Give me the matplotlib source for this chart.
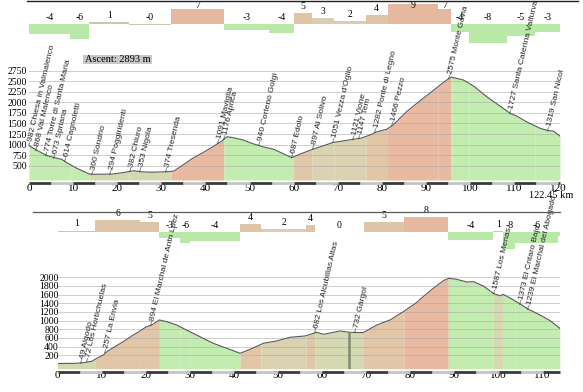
import numpy as np
import matplotlib
matplotlib.use("Agg")
import matplotlib.pyplot as plt
import matplotlib.transforms as mtransforms
from matplotlib.lines import Line2D
from matplotlib.patches import Rectangle

# ---- route 1 : Chiesa in Valmalenco -> San Nicolo (km, m)
top_km = [0, 1.7, 4.0, 5.9, 7.4, 8.5, 10.8, 13.7, 14.6, 18.8, 21.8, 23.7, 25.6, 28.0,
          31.8, 32.9, 34.9, 37.1, 39.4, 41.7, 43.6, 44.9, 46.3, 48.6, 50.5, 53.0,
          55.5, 57.8, 59.6, 61.5, 64.5, 69.0, 73.5, 75.4, 77.3, 78.8, 81.1, 82.6,
          85.6, 88.6, 91.6, 93.9, 95.7, 98.5, 100.8, 103.8, 106.8, 109.1, 110.6,
          112.8, 115.9, 117.8, 118.9, 120.4]
top_elev = [975, 870, 740, 688, 650, 575, 440, 300, 296, 300, 342, 380, 352, 345,
            358, 375, 515, 674, 807, 949, 1075, 1186, 1162, 1108, 1029, 949,
            887, 776, 690, 776, 894, 1050, 1124, 1155, 1226, 1300, 1361, 1465,
            1778, 2032, 2276, 2466, 2600, 2530, 2387, 2134, 1913, 1740, 1676,
            1541, 1385, 1328, 1321, 1202]
top_edges = [0, 9.3, 13.7, 22.7, 32.2, 44.2, 54.5, 60.0, 64.2, 69.2, 76.4, 81.3,
             92.7, 95.7, 99.8, 108.3, 114.7, 120.4]
top_grade = [-4.3, -6.5, 0.9, -0.1, 6.5, -2.5, -3.9, 4.8, 2.6, 1.5, 4.0, 8.8,
             6.6, -3.5, -8.3, -5.3, -3.5]
top_grade_lbl = ['-4', '-6', '1', '-0', '7', '-3', '-4', '5', '3', '2', '4', '9',
                 '7', '-4', '-8', '-5', '-3']
top_place_km = [0.1, 1.8, 3.9, 5.9, 8.2, 14.4, 18.6, 23.1, 25.2, 31.2, 42.9, 44.3,
                52.2, 59.7, 64.5, 69.0, 73.7, 75.0, 78.6, 82.4, 95.3, 109.3, 117.8]
top_place = ['982 Chiesa in Valmalenco', '868 Val Malenco', '774 Torre di Santa Maria',
             '673 Spriana', '614 Cagnoletti', '300 Sondrio', '294 Poggiridenti',
             '382 Chiuro', '353 Nigola', '374 Tresenda', '1091 Maviglia', '1176 Aprica',
             '940 Corteno Golgi', '687 Edolo', '897 Al Solivo', "1051 Vezza d'Oglio",
             '1121 Vione', '1147 Tem', '1282 Ponte di Legno', '1466 Pezzo',
             '2575 Monte Gavia', '1727 Santa Caterina Valfurva', '1319 San Nicol']

# ---- route 2
bot_km = [0, 4.3, 5.9, 7.8, 8.9, 10.4, 11.2, 13.0, 14.9, 17.2, 18.7, 20.2, 21.4,
          23.1, 24.8, 27.0, 30.0, 32.3, 35.3, 38.4, 41.4, 43.5, 46.7, 49.7, 52.7,
          56.1, 58.8, 60.3, 64.1, 66.3, 69.3, 72.4, 75.4, 78.4, 81.4, 82.2, 85.2,
          87.5, 88.7, 90.5, 92.8, 94.3, 96.6, 98.8, 100.3, 101.1, 103.4, 104.9,
          106.8, 109.4, 111.7, 113.9]
bot_elev = [10, 15, 29, 61, 130, 207, 283, 398, 514, 668, 761, 860, 899,
            1015, 975, 899, 745, 629, 477, 361, 246, 330, 477, 530, 615,
            645, 730, 685, 761, 730, 722, 899, 1015, 1206, 1414, 1492, 1746,
            1922, 1977, 1954, 1892, 1900, 1799, 1630, 1575, 1607, 1476, 1384,
            1261, 1130, 1000, 823]
bot_edges = [0, 8.6, 18.8, 23.1, 27.8, 30.1, 41.4, 46.1, 56.4, 58.4, 69.4, 78.6,
             88.6, 98.8, 101.1, 103.8, 113.6, 113.9]
bot_grade = [0.85, 6.2, 4.9, -3.0, -5.5, -4.2, 4.2, 1.5, 3.7, 0.0, 5.0, 7.5,
             -3.9, 0.5, -8.3, -5.5, -2.0]
bot_grade_lbl = ['1', '6', '5', '-3', '-6', '-4', '4', '2', '4', '0', '5', '8',
                 '-4', '1', '-8', '-6', '']
bot_place_km = [5.5, 6.8, 11.0, 21.4, 58.6, 67.7, 99.2, 104.9, 106.8]
bot_place = ['49 Algodo', '72 Los Hortichuelas', '257 La Envia',
             '894 El Marchal de Antn Lpez', '682 Los Alcubillas Altas', '732 Gárgol',
             '1587 Los Menas', '1373 El Cntaro Bajo', '1239 El Marchal del Abogado']
marker_km = 66.1

W, H = 583, 392
SERIF = ['Liberation Serif', 'DejaVu Serif']
SANS = ['Liberation Sans', 'DejaVu Sans']

fig = plt.figure(figsize=(W / 100, H / 100), dpi=100)


def px_axes(left, top, width, height):
    ax = fig.add_axes([left / W, 1 - (top + height) / H, width / W, height / H])
    ax.patch.set_visible(False)
    for s in ax.spines.values():
        s.set_visible(False)
    return ax


def grade_colour(g, fill=False):
    if g <= -0.5:
        return '#c2ecb0' if fill else '#b9e9a6'
    if g < 1.2:
        return '#d5d9b2' if fill else '#cdc9a8'
    if g < 3.5:
        return '#dbd2b2' if fill else '#d9ceb0'
    if g < 6.5:
        return '#e2c6a8' if fill else '#dec5a7'
    return '#e9b9a2' if fill else '#e6b8a0'


def grade_bars(ax, edges, grades, labels, scale, ymax):
    edges = np.array(edges)
    ax.bar(edges[:-1], grades, width=np.diff(edges), align='edge', lw=0,
           color=[grade_colour(g) for g in grades])
    for a, b, g, t in zip(edges[:-1], edges[1:], grades, labels):
        y = min(max(g, 0) + 6.8 / scale, ymax)
        ax.text((a + b) / 2, y, t, ha='center', va='center',
                family=SERIF, fontsize=7, clip_on=False)
    ax.set_xticks([])
    ax.set_yticks([])


def profile(ax, km, elev, edges, grades, base, ticks, xticks, places, place_km, lbl_dy):
    km = np.array(km, float)
    elev = np.array(elev, float)
    for a, b, g in zip(edges[:-1], edges[1:], grades):
        inside = (km > a) & (km < b)
        xs = np.concatenate([[a], km[inside], [b]])
        ax.fill_between(xs, base, np.interp(xs, km, elev), color=grade_colour(g, True),
                        lw=0, zorder=1)
    ax.plot(km, elev, color='#5a5a5a', lw=0.8, zorder=4)
    for t in ticks:
        ax.axhline(t, color='#a8a8a8', lw=0.7, alpha=0.55, zorder=3)
    ax.set_yticks(ticks)
    ax.set_yticklabels([str(t) for t in ticks], family=SERIF, fontsize=7)
    off = mtransforms.ScaledTranslation(0, lbl_dy / 100, fig.dpi_scale_trans)
    for lab in ax.get_yticklabels():
        lab.set_transform(lab.get_transform() + off)
    ax.set_xticks(xticks)
    ax.set_xticklabels([str(t) for t in xticks], family=SERIF, fontsize=8)
    ax.tick_params(length=0)
    for k, t in zip(place_km, places):
        ax.text(k, np.interp(k, km, elev), '\u2013' + t, rotation=77,
                rotation_mode='anchor', ha='left', va='center', family=SANS,
                fontsize=6.1, color='#222222', clip_on=False, zorder=6)


def km_bar(ax, xmax, dy):
    tr = ax.get_xaxis_transform() + mtransforms.ScaledTranslation(0, -dy / 100, fig.dpi_scale_trans)
    for i, a in enumerate(np.arange(0, xmax, 5)):
        ax.plot([a, min(a + 5, xmax)], [0, 0], transform=tr, lw=2, solid_capstyle='butt',
                color='#3a3a3a' if i % 2 == 0 else '#c4c4c4', clip_on=False)


# ---------------- top route
sc1 = 2.3
bar1 = px_axes(29, 0, 120.4 * 4.41, 50)
bar1.set_xlim(0, 120.4)
bar1.set_ylim(-(50 - 24.3) / sc1, 24.3 / sc1)
grade_bars(bar1, top_edges, top_grade, top_grade_lbl, sc1, (24.3 - 5.5) / sc1)

ax1 = px_axes(29, 70.7, 120.4 * 4.41, 109.3)
ax1.set_xlim(0, 120.4)
ax1.set_ylim(160, 2750)
profile(ax1, top_km, top_elev, top_edges, top_grade, 160, list(range(500, 2751, 250)),
        list(range(0, 121, 10)), top_place, top_place_km, 2.5)
ax1.tick_params(axis='x', pad=2.6)
ax1.tick_params(axis='y', pad=1.6)
km_bar(ax1, 120.4, 3)

# ---------------- bottom route
sc2 = 2.0
bar2 = px_axes(57.5, 200, 113.9 * 4.41, 60)
bar2.set_xlim(0, 113.9)
bar2.set_ylim(-(60 - 32.3) / sc2, 32.3 / sc2)
grade_bars(bar2, bot_edges, bot_grade, bot_grade_lbl, sc2, 32.3 / sc2)

ax2 = px_axes(57.5, 277.3, 113.9 * 4.41, 91.4)
ax2.set_xlim(0, 113.9)
ax2.set_ylim(-110, 2000)
profile(ax2, bot_km, bot_elev, bot_edges, bot_grade, -110, list(range(200, 2001, 200)),
        list(range(0, 111, 10)), bot_place, bot_place_km, 3.5)
ax2.vlines(marker_km, -110, np.interp(marker_km, bot_km, bot_elev), color='#7d8c72',
           lw=1.8, zorder=5)
ax2.tick_params(axis='x', pad=1.8)
ax2.tick_params(axis='y', pad=-1)
km_bar(ax2, 113.9, 3.3)

# ---------------- decorations
fig.add_artist(Line2D([27 / W, 578 / W], [1 - 1.2 / H] * 2, color='#222222', lw=1))
fig.add_artist(Line2D([33 / W, 560 / W], [1 - 212 / H] * 2, color='#5a5a5a', lw=0.9))
fig.add_artist(Rectangle((83 / W, 1 - 64 / H), 69 / W, 9 / H, transform=fig.transFigure,
                         facecolor='#c8c8c8', edgecolor='none'))
fig.text(85 / W, 1 - 59.5 / H, 'Ascent: 2893 m', family=SERIF, fontsize=7.5,
         va='center', ha='left')
fig.text(573 / W, 1 - 196 / H, '122.45 km', family=SERIF, fontsize=7.5,
         va='center', ha='right')

fig.savefig('out.png', dpi=100, facecolor='white')
